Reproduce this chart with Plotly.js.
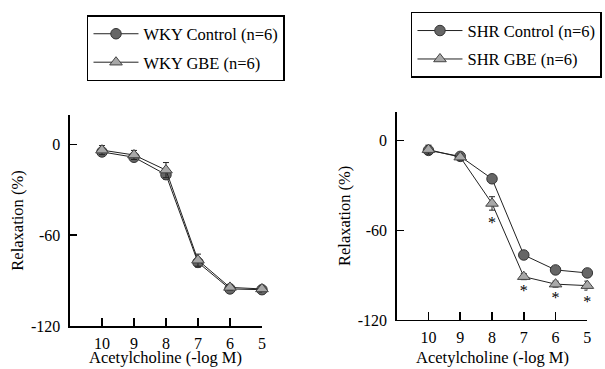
<!DOCTYPE html>
<html>
<head>
<meta charset="utf-8">
<script src="https://cdn.plot.ly/plotly-3.0.1.min.js"></script>
<style>html,body{margin:0;padding:0;background:#fff;}#chart{width:605px;height:369px;}</style>
</head>
<body>
<div id="chart"></div>
<script>
// Acetylcholine concentration (-log M)
const doses = [10, 9, 8, 7, 6, 5];
const xTickLabels = ['10', '9', '8', '7', '6', '5'];
const yTickVals = [0, -60, -120];
const yTickLabels = ['0', '-60', '-120'];
const xTitle = 'Acetylcholine (-log M)';
const yTitle = 'Relaxation (%)';

// WKY panel
const wkyControl = [-5, -8.5, -20, -78, -95.5, -96];
const wkyControlErr = [2, 2, 3, 3, 2, 2];
const wkyGBE = [-3.8, -7, -17, -76.5, -94.5, -95.5];
const wkyGBEErr = [3, 3, 5, 4, 2, 2];

// SHR panel
const shrControl = [-6.5, -10.5, -25.5, -76.5, -86.5, -88.5];
const shrControlErr = [2, 2, 2, 2, 2, 2];
const shrGBE = [-6, -11, -42, -91, -96, -97];
const shrGBEErr = [3, 2, 4.5, 2, 2, 3];

// significance markers (SHR GBE vs SHR Control)
const sigDoses = [8, 7, 6, 5];
const sigY = [-56, -101, -106, -108.5];
const sigText = ['*', '*', '*', '*'];

const serifFamily = 'Liberation Serif';

function circleTrace(name, y, err, xa, ya, leg, grp) {
  return {
    x: doses, y: y, name: name, type: 'scatter', mode: 'lines+markers',
    xaxis: xa, yaxis: ya, legend: leg, legendgroup: grp, cliponaxis: false,
    line: {color: '#222', width: 1},
    marker: {symbol: 'circle', size: 10.5, color: '#666', line: {color: '#333', width: 1}},
    error_y: {type: 'data', array: err, visible: true, color: '#222', thickness: 1, width: 3}
  };
}
function triTrace(name, y, err, xa, ya, leg, grp) {
  return {
    x: doses, y: y, name: name, type: 'scatter', mode: 'lines+markers',
    xaxis: xa, yaxis: ya, legend: leg, legendgroup: grp, cliponaxis: false,
    line: {color: '#222', width: 1},
    marker: {symbol: 'triangle-up', size: 11, color: '#a8a8a8', line: {color: '#444', width: 1}},
    error_y: {type: 'data', array: err, visible: true, color: '#222', thickness: 1, width: 3}
  };
}

const data = [
  circleTrace('WKY Control (n=6)', wkyControl, wkyControlErr, 'x', 'y', 'legend', 'a'),
  triTrace('WKY GBE (n=6)', wkyGBE, wkyGBEErr, 'x', 'y', 'legend', 'b'),
  circleTrace('SHR Control (n=6)', shrControl, shrControlErr, 'x2', 'y2', 'legend2', 'c'),
  triTrace('SHR GBE (n=6)', shrGBE, shrGBEErr, 'x2', 'y2', 'legend2', 'd'),
  {x: sigDoses, y: sigY, text: sigText, mode: 'text', type: 'scatter', xaxis: 'x2', yaxis: 'y2',
   showlegend: false, cliponaxis: false, textfont: {family: serifFamily, size: 16, color: '#000'}, hoverinfo: 'skip'}
];

function xAxis(domain, anchor) {
  return {
    domain: domain, anchor: anchor, range: [11, 5], tickmode: 'array',
    tickvals: doses, ticktext: xTickLabels, ticks: 'inside', ticklen: 8, tickwidth: 1.5,
    tickcolor: '#000', showline: true, linecolor: '#000', linewidth: 1.5, showgrid: false,
    zeroline: false, ticklabelstandoff: 2, tickfont: {family: serifFamily, size: 16, color: '#000'}
  };
}
function yAxis(domain, anchor) {
  return {
    domain: domain, anchor: anchor, range: [-120, 19.4], tickmode: 'array',
    tickvals: yTickVals, ticktext: yTickLabels, ticks: 'inside', ticklen: 7, tickwidth: 1.5, tickcolor: '#000',
    showline: true, linecolor: '#000', linewidth: 1.5, showgrid: false, zeroline: false,
    ticklabelstandoff: 5, tickfont: {family: serifFamily, size: 16, color: '#000'},
    title: {text: yTitle, font: {family: serifFamily, size: 16.5, color: '#000'}, standoff: 3}
  };
}

const legendStyle = {
  bgcolor: '#fff', bordercolor: '#000', borderwidth: 1.5,
  font: {family: serifFamily, size: 16.5, color: '#000'},
  xanchor: 'left', yanchor: 'top', tracegroupgap: 4, itemwidth: 45
};

function xTitleAnn(xref) {
  return {xref: xref, yref: 'paper', x: 0.5, y: 0.004, xanchor: 'center', yanchor: 'bottom',
    borderpad: 0, showarrow: false, text: xTitle, font: {family: serifFamily, size: 16.5, color: '#000'}};
}

const layout = {
  width: 605, height: 369,
  font: {family: serifFamily, color: '#000'},
  margin: {l: 0, r: 0, t: 0, b: 0, autoexpand: false},
  paper_bgcolor: '#fff', plot_bgcolor: '#fff',
  showlegend: true,
  xaxis: xAxis([0.1157, 0.433], 'y'),
  yaxis: yAxis([0.1165, 0.6883], 'x'),
  xaxis2: xAxis([0.6557, 0.9708], 'y2'),
  yaxis2: yAxis([0.1328, 0.6973], 'x2'),
  legend: Object.assign({}, legendStyle, {x: 0.1438, y: 0.9593}),
  legend2: Object.assign({}, legendStyle, {x: 0.6793, y: 0.968}),
  annotations: [xTitleAnn('x domain'), xTitleAnn('x2 domain')]
};

Plotly.newPlot('chart', data, layout, {displayModeBar: false, staticPlot: true});
</script>
</body>
</html>
